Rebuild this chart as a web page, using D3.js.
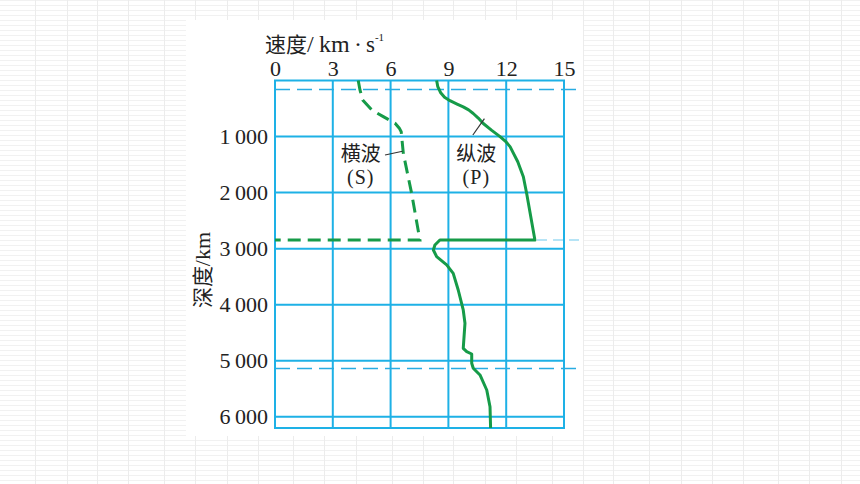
<!DOCTYPE html>
<html><head><meta charset="utf-8">
<script src="https://cdn.jsdelivr.net/npm/d3@7"></script>
<style>
html,body{margin:0;padding:0;background:#fff;}
svg{display:block;}
</style></head>
<body>
<svg id="chart" width="860" height="484"></svg>
<script>
// ---- data ----
const velocityTicks = [0, 3, 6, 9, 12, 15];
const depthTicks = [1000, 2000, 3000, 4000, 5000, 6000];
const depthMax = 6200;
const boundaryDepths = [157, 5134];          // dashed reference lines across chart
const coreMantleDepth = 2846;               // depth of S-wave vanishing / P drop

// P wave (纵波): velocity km/s, depth km
const pVelocity = [8.39, 8.45, 8.6, 8.8, 9.08, 9.45, 9.77, 10.05, 10.29, 10.55, 10.81, 11.25, 11.68, 11.95, 12.2, 12.6, 12.89, 13.06, 13.49,
                   8.56, 8.3, 8.22, 8.39, 8.91, 9.25, 9.51, 9.77, 9.86, 9.77, 9.95, 10.21, 10.21, 10.29, 10.64, 10.99, 11.16, 11.19];
const pDepth    = [0, 110, 220, 300, 360, 420, 470, 525, 589, 670, 767, 890, 1002, 1080, 1180, 1450, 1716, 2013, 2846,
                   2846, 2935, 3024, 3143, 3290, 3440, 3738, 4094, 4332, 4778, 4838, 4880, 5045, 5134, 5254, 5522, 5820, 6200];
// S wave (横波)
const sVelocity = [4.32, 4.41, 4.55, 5.02, 5.62, 6.23, 6.45, 6.55, 6.66, 7.09, 7.52, 0];
const sDepth    = [0, 169, 348, 526, 645, 763, 850, 913, 1299, 2012, 2846, 2846];

// decorative page background (spreadsheet-like faint grid)
const bgColumns = [35,67,97,128,164,195,227,258,293,324,356,392,423,453,485,516,552,583,613,649,681,712,743,778,809,841];

// ---- drawing ----
const W = 860, H = 484;
const svg = d3.select("#chart");
const gridColor = "#1eb1e6";
const green = "#169b48";
const latin = "'Liberation Serif','Times New Roman',serif";
const cjk = "'Noto Sans CJK SC','Noto Sans CJK JP',sans-serif";

// background
const bg = svg.append("g");
bg.append("rect").attr("width", W).attr("height", H).attr("fill", "#fff");
bg.selectAll("line.h").data(d3.range(0, H, 5)).join("line")
  .attr("x1", 0).attr("x2", W).attr("y1", d => d + 0.5).attr("y2", d => d + 0.5)
  .attr("stroke", "#f1f1f1").attr("stroke-width", 1);
bg.selectAll("line.v").data(bgColumns).join("line")
  .attr("x1", d => d + 0.5).attr("x2", d => d + 0.5).attr("y1", 0).attr("y2", H)
  .attr("stroke", "#ececec").attr("stroke-width", 1);
bg.append("rect").attr("x", 186).attr("y", 20).attr("width", 397).attr("height", 416).attr("fill", "#fff");

const x = d3.scaleLinear().domain([0, 15]).range([275, 564]);
const y = d3.scaleLinear().domain([0, depthMax]).range([80.5, 428]);

const g = svg.append("g");

// grid
g.selectAll("line.gv").data(velocityTicks).join("line")
  .attr("x1", d => x(d)).attr("x2", d => x(d)).attr("y1", y(0)).attr("y2", y(depthMax))
  .attr("stroke", gridColor).attr("stroke-width", 2);
g.selectAll("line.gh").data([0, ...depthTicks, depthMax]).join("line")
  .attr("x1", x(0) - 1).attr("x2", x(15) + 1).attr("y1", d => y(d)).attr("y2", d => y(d))
  .attr("stroke", gridColor).attr("stroke-width", 2);

// dashed reference lines
g.selectAll("line.ref").data(boundaryDepths).join("line")
  .attr("x1", x(0)).attr("x2", x(15) + 19).attr("y1", d => Math.round(y(d)) + 0.5).attr("y2", d => Math.round(y(d)) + 0.5)
  .attr("stroke", "#28ace2").attr("stroke-width", 1.3).attr("stroke-dasharray", "15,7");
g.append("line")
  .attr("x1", x(13.6)).attr("x2", x(15) + 19).attr("y1", y(coreMantleDepth)).attr("y2", y(coreMantleDepth))
  .attr("stroke", "#9fdcf3").attr("stroke-width", 1.5).attr("stroke-dasharray", "10,6");

// axes
const fmt = d => d3.format(",")(d).replace(",", "\u2009");
const topAxis = d3.axisTop(x).tickValues(velocityTicks).tickSize(0).tickPadding(4);
const ta = g.append("g").attr("transform", `translate(0,${y(0) - 0.5})`).call(topAxis);
ta.select(".domain").remove();
ta.selectAll("text").attr("font-family", latin).attr("font-size", 22).attr("fill", "#222");

const leftAxis = d3.axisLeft(y).tickValues(depthTicks).tickSize(0).tickPadding(7).tickFormat(fmt);
const la = g.append("g").attr("transform", `translate(${x(0)},0)`).call(leftAxis);
la.select(".domain").remove();
la.selectAll("text").attr("font-family", latin).attr("font-size", 22).attr("fill", "#222");

// axis titles
const tt = g.append("text").attr("y", 52).attr("fill", "#222").attr("font-size", 24).attr("font-family", latin);
tt.append("tspan").attr("x", 265).attr("font-family", cjk).attr("font-size", 21).text("速度");
tt.append("tspan").attr("x", 307).text("/");
tt.append("tspan").attr("x", 319).text("km");
tt.append("tspan").attr("x", 354).text("\u00b7");
tt.append("tspan").attr("x", 366).attr("font-size", 23).text("s");
tt.append("tspan").attr("font-size", 11).attr("dy", -11).text("-1");

g.append("text").attr("transform", "translate(210,270) rotate(-90)")
  .attr("text-anchor", "middle").attr("fill", "#222").attr("font-size", 21)
  .call(t => {
    t.append("tspan").attr("font-family", cjk).text("深度");
    t.append("tspan").attr("font-family", latin).attr("font-size", 22).text("/km");
  });

// curves
const line = d3.line().x(d => x(d[0])).y(d => y(d[1])).curve(d3.curveLinear);
const pData = pVelocity.map((v, i) => [v, pDepth[i]]);
const sData = sVelocity.map((v, i) => [v, sDepth[i]]);
g.append("path").attr("d", line(pData)).attr("fill", "none")
  .attr("stroke", green).attr("stroke-width", 3).attr("stroke-linejoin", "round");
g.append("path").attr("d", line(sData)).attr("fill", "none")
  .attr("stroke", green).attr("stroke-width", 3).attr("stroke-dasharray", "13,7");

// labels with leader lines
const labels = [
  {name: "横波", sym: "(S)", v: 4.45, leader: [[5.71, 1329], [6.62, 1262]]},
  {name: "纵波", sym: "(P)", v: 10.45, leader: [[10.27, 972], [10.87, 680]]}
];
labels.forEach(l => {
  g.append("text").attr("x", x(l.v)).attr("y", y(1440)).attr("text-anchor", "middle")
    .attr("font-family", cjk).attr("font-size", 20).attr("fill", "#222").text(l.name);
  g.append("text").attr("x", x(l.v)).attr("y", y(1850)).attr("text-anchor", "middle")
    .attr("font-family", latin).attr("font-size", 20).attr("letter-spacing", 1).attr("fill", "#222").text(l.sym);
  g.append("line")
    .attr("x1", x(l.leader[0][0])).attr("y1", y(l.leader[0][1]))
    .attr("x2", x(l.leader[1][0])).attr("y2", y(l.leader[1][1]))
    .attr("stroke", "#333").attr("stroke-width", 1.2);
});
</script>
</body></html>
